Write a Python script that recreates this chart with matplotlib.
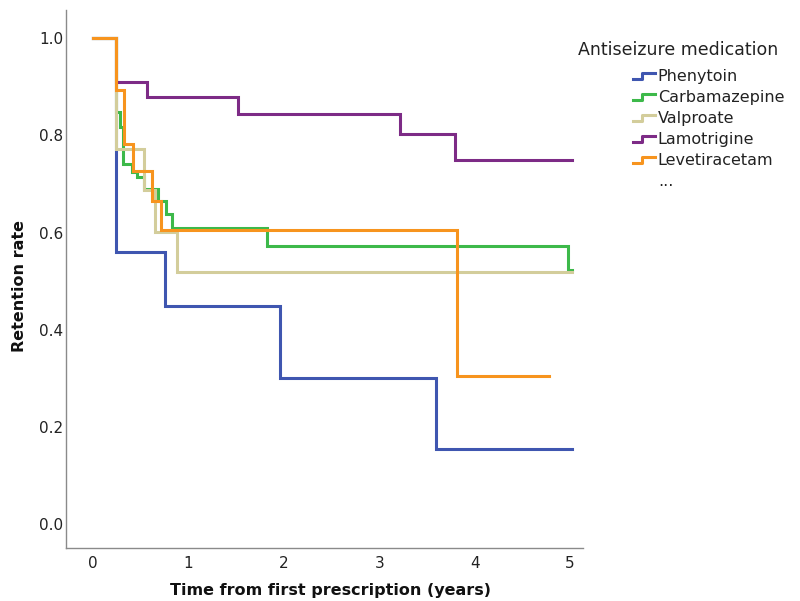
import matplotlib
matplotlib.use("Agg")
import matplotlib.pyplot as plt
from matplotlib.legend_handler import HandlerBase
from matplotlib.lines import Line2D

# ---- data ----
names = ["Phenytoin", "Carbamazepine", "Valproate", "Lamotrigine", "Levetiracetam"]
colors = ["#3F56B0", "#3DB94A", "#D3CD9B", "#7D2B86", "#F7941E"]

phenytoin_t = [0, 0.24, 0.755, 1.96, 3.60, 5.02]
phenytoin_v = [1.0, 0.56, 0.449, 0.300, 0.154, 0.154]

carbamazepine_t = [0, 0.24, 0.285, 0.31, 0.405, 0.465, 0.53, 0.685, 0.77, 0.825, 1.82, 4.98, 5.02]
carbamazepine_v = [1.0, 0.848, 0.818, 0.742, 0.725, 0.715, 0.69, 0.664, 0.639, 0.61, 0.573, 0.523, 0.523]

valproate_t = [0, 0.24, 0.535, 0.65, 0.877, 5.02]
valproate_v = [1.0, 0.773, 0.687, 0.601, 0.519, 0.519]

lamotrigine_t = [0, 0.24, 0.57, 1.52, 3.22, 3.79, 5.02]
lamotrigine_v = [1.0, 0.910, 0.878, 0.844, 0.802, 0.749, 0.749]

levetiracetam_t = [0, 0.24, 0.325, 0.416, 0.615, 0.71, 3.82, 4.78]
levetiracetam_v = [1.0, 0.893, 0.783, 0.727, 0.665, 0.606, 0.305, 0.305]

x_ticks = [0, 1, 2, 3, 4, 5]
y_ticks = [0.0, 0.2, 0.4, 0.6, 0.8, 1.0]

series = [
    (phenytoin_t, phenytoin_v),
    (carbamazepine_t, carbamazepine_v),
    (valproate_t, valproate_v),
    (lamotrigine_t, lamotrigine_v),
    (levetiracetam_t, levetiracetam_v),
]

plt.rcParams["font.family"] = ["DejaVu Sans"]

fig = plt.figure(figsize=(8.0, 6.01), dpi=100)
ax = fig.add_axes([66 / 800, 53 / 601, (583 - 66) / 800, (548 - 10) / 601])

handles = []
for (t, v), name, c in zip(series, names, colors):
    ln, = ax.step(t, v, where="post", color=c, lw=2.2, label=name, solid_joinstyle="miter")
    handles.append(ln)

ax.set_xlim(-0.283, 5.136)
ax.set_ylim(-0.049, 1.058)
ax.set_xticks(x_ticks)
ax.set_xticklabels([str(x) for x in x_ticks])
ax.set_yticks(y_ticks)
ax.set_yticklabels([f"{y:.1f}" for y in y_ticks])
ax.tick_params(axis="both", length=0, labelsize=11, colors="#222222")
ax.tick_params(axis="y", pad=2)
ax.tick_params(axis="x", pad=6)
for s in ["top", "right"]:
    ax.spines[s].set_visible(False)
for s in ["left", "bottom"]:
    ax.spines[s].set_color("#8a8a8a")
    ax.spines[s].set_linewidth(1.0)

fig.text(330 / 800, 1 - 590 / 601, "Time from first prescription (years)",
         fontsize=11.5, fontweight="bold", ha="center", va="center", color="#111111")
fig.text(20 / 800, 1 - 286 / 601, "Retention rate", rotation=90,
         fontsize=11.5, fontweight="bold", ha="center", va="center", color="#111111")


class StepHandler(HandlerBase):
    def create_artists(self, legend, orig_handle, xdescent, ydescent, width, height, fontsize, trans):
        x0 = -xdescent
        y0 = -ydescent
        xs = [x0, x0 + 0.4 * width, x0 + 0.4 * width, x0 + width]
        ys = [y0 + 0.2 * height, y0 + 0.2 * height, y0 + 0.7 * height, y0 + 0.7 * height]
        ln = Line2D(xs, ys, color=orig_handle.get_color(), lw=2.2, transform=trans)
        return [ln]


dummy = Line2D([], [], color="none")
leg_handles = handles + [dummy]
leg_labels = names + ["..."]
leg = fig.legend(
    leg_handles, leg_labels,
    handler_map={Line2D: StepHandler()},
    loc="upper left", bbox_to_anchor=(633 / 800, 1 - 69 / 601),
    frameon=False, fontsize=11.5, handlelength=1.4, handletextpad=0.15,
    labelspacing=0.38, borderaxespad=0, borderpad=0,
)
for txt in leg.get_texts():
    txt.set_color("#222222")
fig.text(578 / 800, 1 - 50 / 601, "Antiseizure medication", fontsize=12.5,
         ha="left", va="center", color="#222222")

fig.savefig("out.png", dpi=100)
